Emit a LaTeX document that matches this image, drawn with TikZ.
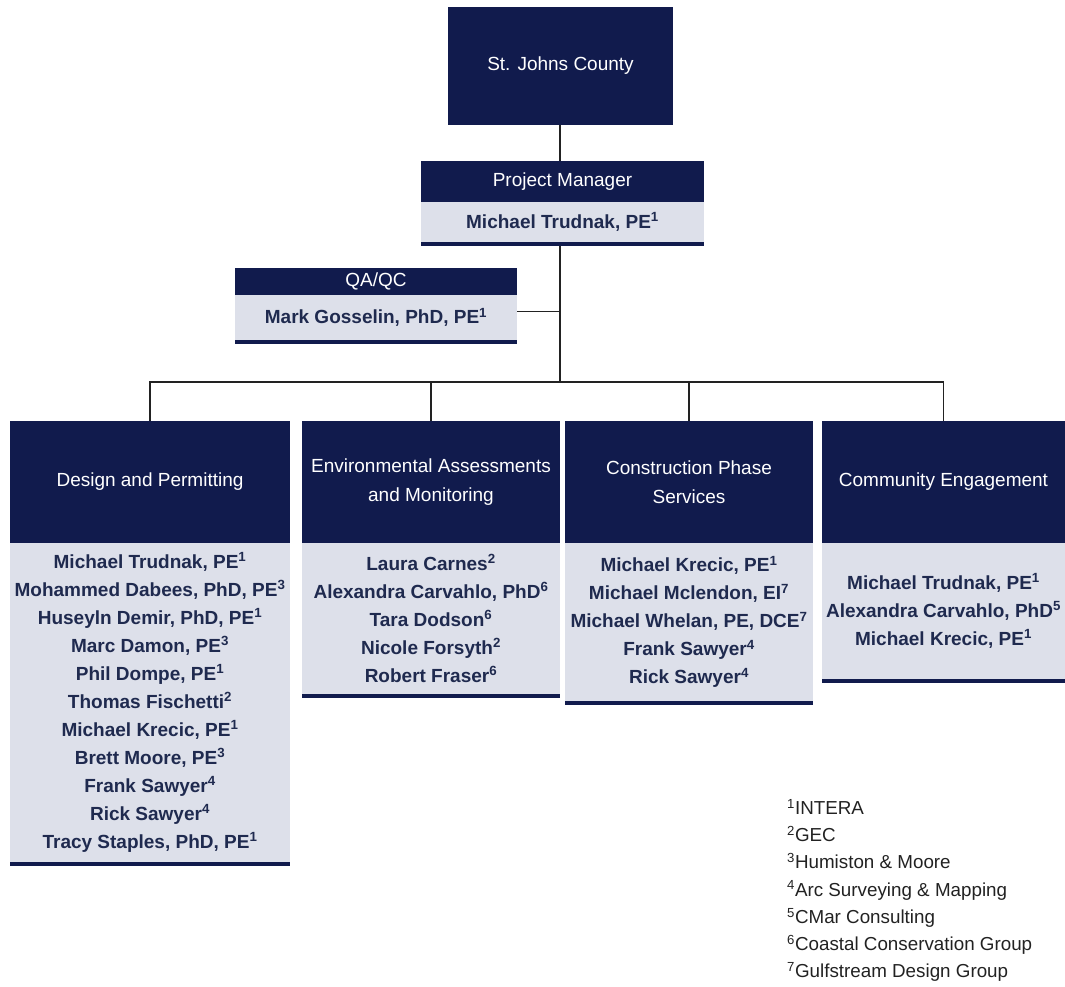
\documentclass[tikz,border=0pt]{standalone}
\usepackage{fontspec}
\setmainfont{Liberation Sans}
\usepackage{tikz}
\usetikzlibrary{positioning, calc}
\definecolor{Navy}{HTML}{111B4D}
\definecolor{Pale}{HTML}{DDE0EA}
\definecolor{Ink}{HTML}{1F2A4F}
\definecolor{Wire}{HTML}{222222}
\tikzstyle{Head} = [
fill=Navy, text=white, inner sep=0pt, outer sep=0pt,
align=center, font=\fontsize{19}{29}\selectfont]
\tikzstyle{Body} = [
fill=Pale, text=Ink, inner sep=0pt, outer sep=0pt,
align=center, font=\fontsize{19}{28}\selectfont\bfseries]
\tikzstyle{Stripe} = [Navy, line width=4pt]
\tikzstyle{Link} = [Wire, line width=1.6pt]

\begin{document}
\begin{tikzpicture}[x=1pt, y=-1pt]
    \useasboundingbox (0,0) rectangle (1065,986);
    \node [Head, anchor=north west, minimum width=225, minimum height=118] (1) at (448,7) {St. Johns County};
    \node [Head, anchor=north west, minimum width=283, minimum height=41] (2) at (421,161) {Project Manager};
    \node [Body, below=0pt of 2, minimum width=283, minimum height=40] (21) {Michael Trudnak, PE\textsuperscript{1}};
    \node [Head, anchor=north west, minimum width=282, minimum height=27] (3) at (235,268) {QA/QC};
    \node [Body, below=0pt of 3, minimum width=282, minimum height=45] (31) {Mark Gosselin, PhD, PE\textsuperscript{1}};
    \node [Head, anchor=north west, minimum width=280, minimum height=122] (4) at (10,421) {Design and Permitting};
    \node [Head, right=12pt of 4, minimum width=258, minimum height=122] (5) {Environmental Assessments\\and Monitoring};
    \node [Head, right=5pt of 5, minimum width=248, minimum height=122] (6) {Construction Phase\\Services};
    \node [Head, right=9pt of 6, minimum width=243, minimum height=122] (7) {Community Engagement};
    \node [Body, below=0pt of 4, minimum width=280, minimum height=319] (41) {Michael Trudnak, PE\textsuperscript{1}\\Mohammed Dabees, PhD, PE\textsuperscript{3}\\Huseyln Demir, PhD, PE\textsuperscript{1}\\Marc Damon, PE\textsuperscript{3}\\Phil Dompe, PE\textsuperscript{1}\\Thomas Fischetti\textsuperscript{2}\\Michael Krecic, PE\textsuperscript{1}\\Brett Moore, PE\textsuperscript{3}\\Frank Sawyer\textsuperscript{4}\\Rick Sawyer\textsuperscript{4}\\Tracy Staples, PhD, PE\textsuperscript{1}};
    \node [Body, below=0pt of 5, minimum width=258, minimum height=151] (51) {Laura Carnes\textsuperscript{2}\\Alexandra Carvahlo, PhD\textsuperscript{6}\\Tara Dodson\textsuperscript{6}\\Nicole Forsyth\textsuperscript{2}\\Robert Fraser\textsuperscript{6}};
    \node [Body, below=0pt of 6, minimum width=248, minimum height=158] (61) {Michael Krecic, PE\textsuperscript{1}\\Michael Mclendon, EI\textsuperscript{7}\\Michael Whelan, PE, DCE\textsuperscript{7}\\Frank Sawyer\textsuperscript{4}\\Rick Sawyer\textsuperscript{4}};
    \node [Body, below=0pt of 7, minimum width=243, minimum height=136] (71) {Michael Trudnak, PE\textsuperscript{1}\\Alexandra Carvahlo, PhD\textsuperscript{5}\\Michael Krecic, PE\textsuperscript{1}};
    \node [anchor=north west, align=left, inner sep=0pt, text=Wire, font=\fontsize{18.8}{27.2}\selectfont] (9) at (787,799) {\textsuperscript{1}INTERA\\\textsuperscript{2}GEC\\\textsuperscript{3}Humiston \& Moore\\\textsuperscript{4}Arc Surveying \& Mapping\\\textsuperscript{5}CMar Consulting\\\textsuperscript{6}Coastal Conservation Group\\\textsuperscript{7}Gulfstream Design Group};
    \draw[Stripe] ([yshift=-2pt]21.south west) -- ([yshift=-2pt]21.south east);
    \draw[Stripe] ([yshift=-2pt]31.south west) -- ([yshift=-2pt]31.south east);
    \draw[Stripe] ([yshift=-2pt]41.south west) -- ([yshift=-2pt]41.south east);
    \draw[Stripe] ([yshift=-2pt]51.south west) -- ([yshift=-2pt]51.south east);
    \draw[Stripe] ([yshift=-2pt]61.south west) -- ([yshift=-2pt]61.south east);
    \draw[Stripe] ([yshift=-2pt]71.south west) -- ([yshift=-2pt]71.south east);
    \coordinate (8) at (560,382);
    \draw[Link] (1.south -| 8) -- (2.north -| 8);
    \draw[Link] ([yshift=-4pt]21.south -| 8) -- (8);
        \draw[Link] ([yshift=6pt]31.east) -- ([yshift=6pt]31.east -| 8);
    \draw[Link] (4.north) |- (8) -| (7.north);
    \draw[Link] (5.north) -- (5.north |- 8);
    \draw[Link] (6.north) -- (6.north |- 8);
\end{tikzpicture}
\end{document}
